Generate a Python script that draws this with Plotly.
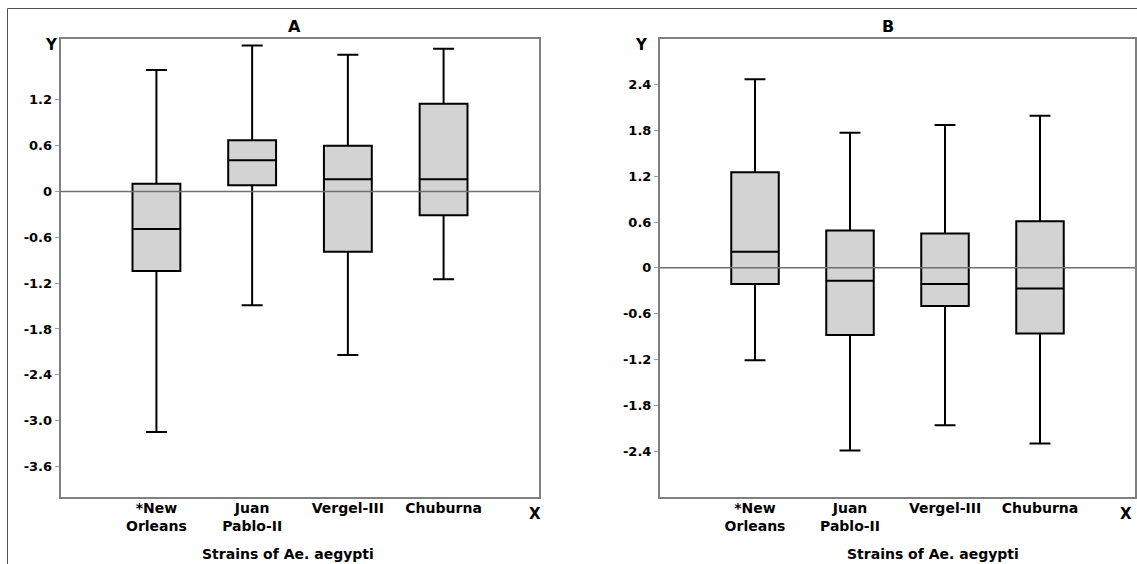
import plotly.graph_objects as go

categories = ["*New<br>Orleans", "Juan<br>Pablo-II", "Vergel-III", "Chuburna"]
positions = [1, 2, 3, 4]

# Panel A
a_low = [-3.15, -1.49, -2.14, -1.15]
a_q1 = [-1.04, 0.08, -0.79, -0.31]
a_med = [-0.49, 0.41, 0.16, 0.16]
a_q3 = [0.10, 0.67, 0.60, 1.15]
a_high = [1.59, 1.91, 1.79, 1.87]

# Panel B
b_low = [-1.21, -2.39, -2.06, -2.30]
b_q1 = [-0.21, -0.88, -0.50, -0.86]
b_med = [0.21, -0.17, -0.21, -0.27]
b_q3 = [1.25, 0.49, 0.45, 0.61]
b_high = [2.47, 1.77, 1.87, 1.99]

a_ticks = [1.2, 0.6, 0, -0.6, -1.2, -1.8, -2.4, -3.0, -3.6]
a_ticktext = ["1.2", "0.6", "0", "-0.6", "-1.2", "-1.8", "-2.4", "-3.0", "-3.6"]
b_ticks = [2.4, 1.8, 1.2, 0.6, 0, -0.6, -1.2, -1.8, -2.4]
b_ticktext = ["2.4", "1.8", "1.2", "0.6", "0", "-0.6", "-1.2", "-1.8", "-2.4"]

FONT = "DejaVu Sans"

fig = go.Figure()

def add_box(xaxis, yaxis, low, q1, med, q3, high):
    fig.add_trace(go.Box(
        x=positions, q1=q1, median=med, q3=q3, lowerfence=low, upperfence=high,
        xaxis=xaxis, yaxis=yaxis, width=0.5, whiskerwidth=0.44,
        fillcolor="#d3d3d3", line=dict(color="black", width=2),
        boxpoints=False, showlegend=False, hoverinfo="skip",
    ))

add_box("x", "y", a_low, a_q1, a_med, a_q3, a_high)
add_box("x2", "y2", b_low, b_q1, b_med, b_q3, b_high)

axis_common = dict(showgrid=False, showline=True, linecolor="#808080", linewidth=2,
                   mirror=True, zeroline=False)
xfont = dict(family=FONT, size=14, color="black", weight="bold")
yfont = dict(family=FONT, size=13, color="black", weight="bold")

y_bottom = (564 - 497) / 564
y_top = (564 - 38.7) / 564

fig.update_layout(
    width=1137, height=564,
    margin=dict(l=0, r=0, t=0, b=0),
    paper_bgcolor="white", plot_bgcolor="white",
    xaxis=dict(domain=[60.7 / 1137, 539.3 / 1137], range=[0, 5], tickvals=positions,
               ticktext=categories, ticks="", tickfont=xfont, anchor="y",
               ticklabelstandoff=-3, **axis_common),
    yaxis=dict(domain=[y_bottom, y_top], range=[-4.0, 2.0], tickvals=a_ticks,
               ticktext=a_ticktext, ticks="outside", ticklen=4, tickcolor="#a0a0a0",
               tickfont=yfont, anchor="x", **axis_common),
    xaxis2=dict(domain=[660 / 1137, 1135 / 1137], range=[0, 5], tickvals=positions,
                ticktext=categories, ticks="", tickfont=xfont, anchor="y2",
                ticklabelstandoff=-3, **axis_common),
    yaxis2=dict(domain=[y_bottom, y_top], range=[-3.0, 3.0], tickvals=b_ticks,
                ticktext=b_ticktext, ticks="outside", ticklen=4, tickcolor="#a0a0a0",
                tickfont=yfont, anchor="x2", **axis_common),
)

# zero reference lines on top of boxes
for xr, yr in [("x", "y"), ("x2", "y2")]:
    fig.add_shape(type="line", xref=xr, yref=yr, x0=0, x1=5, y0=0, y1=0,
                  line=dict(color="#707070", width=1.5), layer="above")

# outer frame
fig.add_shape(type="rect", xref="paper", yref="paper",
              x0=7.5 / 1137, x1=1.05, y0=-0.05, y1=(564 - 8.5) / 564,
              line=dict(color="#505050", width=1), layer="below")

big = dict(family=FONT, size=15, color="black", weight="bold")
title_font = dict(family=FONT, size=16, color="black", weight="bold")
xt_font = dict(family=FONT, size=14, color="black", weight="bold")

annotations = [
    dict(text="A", x=294.6 / 1137, y=(564 - 26.7) / 564, font=title_font),
    dict(text="B", x=888 / 1137, y=(564 - 26) / 564, font=title_font),
    dict(text="Strains of Ae. aegypti", x=288 / 1137, y=(564 - 554) / 564, font=xt_font),
    dict(text="Strains of Ae. aegypti", x=933 / 1137, y=(564 - 554) / 564, font=xt_font),
    dict(text="Y", x=51.7 / 1137, y=(564 - 45) / 564, font=big),
    dict(text="Y", x=641.7 / 1137, y=(564 - 45) / 564, font=big),
    dict(text="X", x=535 / 1137, y=(564 - 514) / 564, font=big),
    dict(text="X", x=1126 / 1137, y=(564 - 514) / 564, font=big),
]
for a in annotations:
    fig.add_annotation(xref="paper", yref="paper", showarrow=False,
                       xanchor="center", yanchor="middle", **a)

fig.write_html("out.html", config={"displayModeBar": False},
               post_script="document.body.style.margin='0';document.body.style.overflow='hidden';")
